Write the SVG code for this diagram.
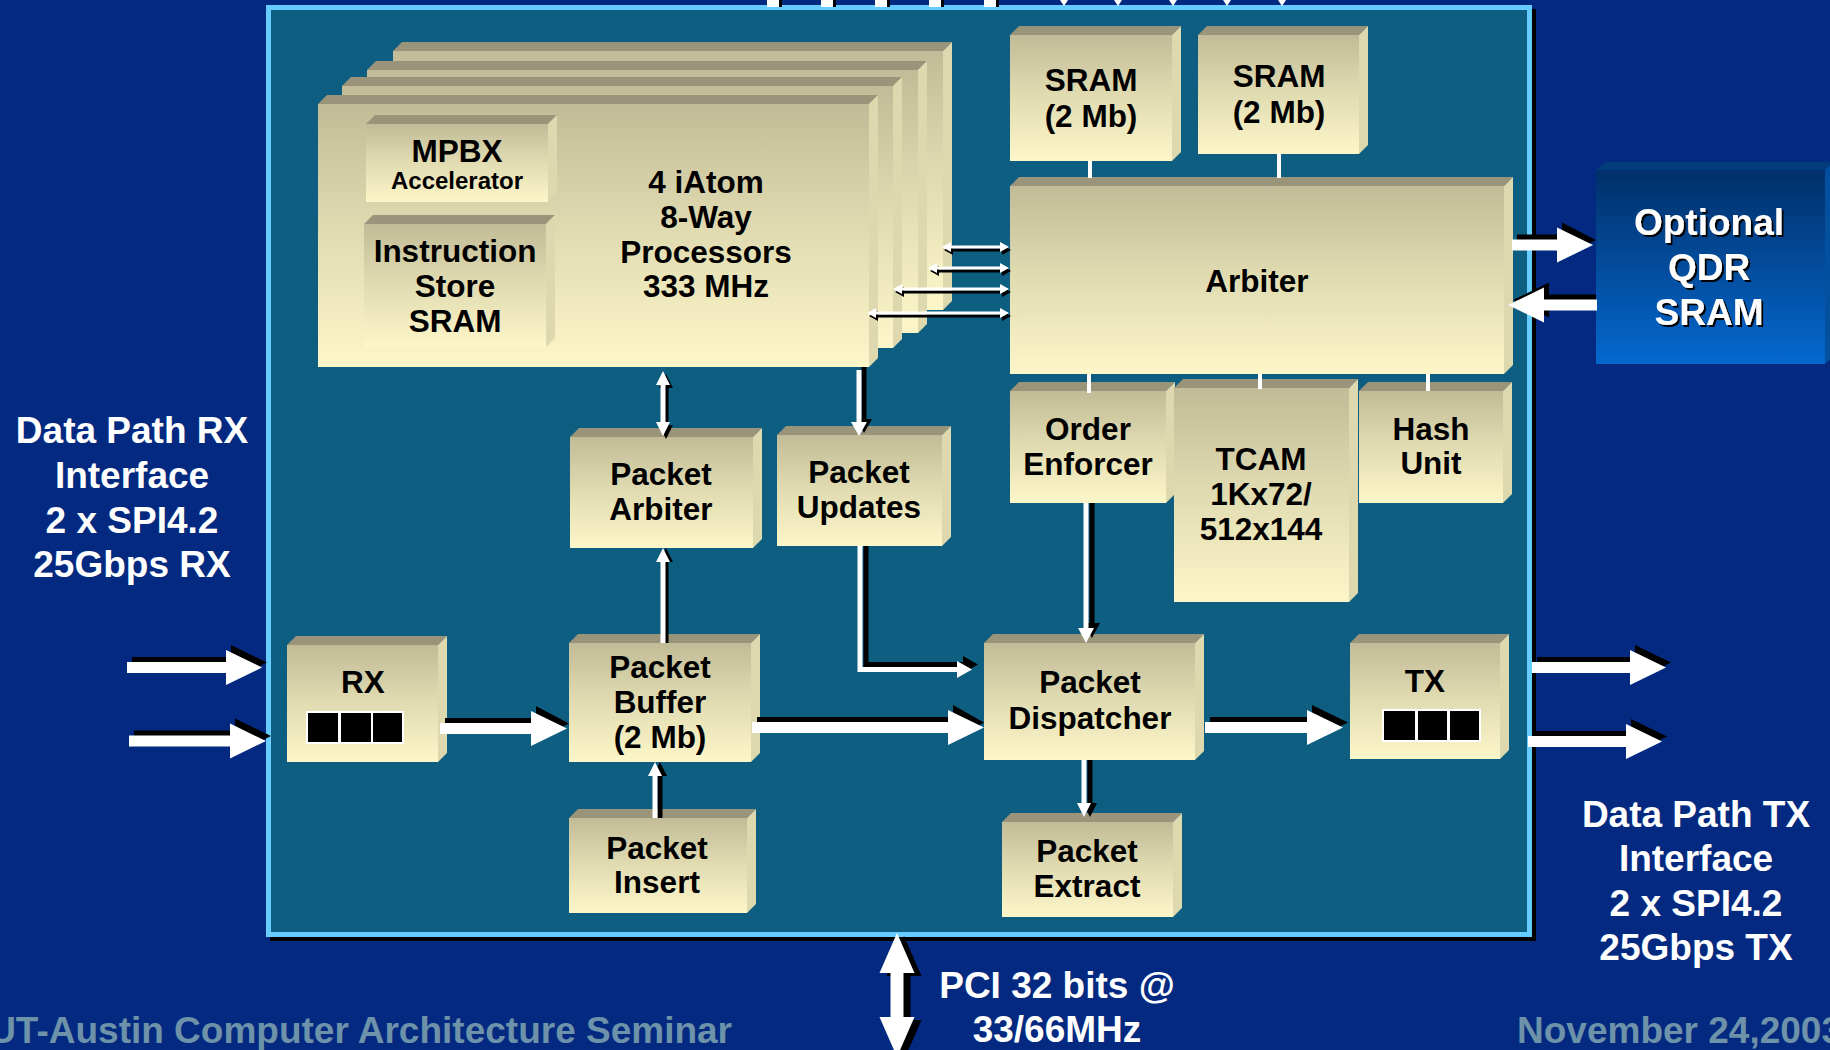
<svg xmlns="http://www.w3.org/2000/svg" width="1830" height="1050" viewBox="0 0 1830 1050">
<defs>
<linearGradient id="gF" x1="0" y1="0" x2="0" y2="1">
<stop offset="0" stop-color="#C1BC97"/><stop offset="0.45" stop-color="#DFD9B0"/><stop offset="1" stop-color="#FCF6C8"/>
</linearGradient>
<linearGradient id="gQ" x1="0" y1="0" x2="0" y2="1">
<stop offset="0" stop-color="#01306A"/><stop offset="1" stop-color="#0468CE"/>
</linearGradient>
<filter id="ds" x="-10%" y="-10%" width="130%" height="130%"><feDropShadow dx="2" dy="2" stdDeviation="0" flood-color="#000"/></filter>
<style>
.f{fill:url(#gF)}
.t{fill:#99947A}
.r{fill:#DDD8AE}
.lb{font-family:"Liberation Sans",Arial,sans-serif;font-weight:bold;font-size:31.5px;text-anchor:middle;fill:#000}
.sm{font-size:24px}
.wl{font-family:"Liberation Sans",Arial,sans-serif;font-weight:bold;font-size:37px;text-anchor:middle;fill:#fff}
.ft{font-family:"Liberation Sans",Arial,sans-serif;font-weight:bold;font-size:37px;fill:#6D92A9}
.wh{fill:#fff}
.sh{fill:#000}
</style>
</defs>
<rect x="0" y="0" width="1830" height="1050" fill="#032A80"/>

<g id="chip">
<rect x="270" y="9" width="1266" height="932" fill="#000"/>
<rect x="268.5" y="7.5" width="1261" height="927" fill="#0D5E80" stroke="#66CCFF" stroke-width="5"/>
</g>

<g id="processors">
<rect class="f" x="393" y="51" width="550" height="259"/><polygon class="t" points="393,51 402,42 952,42 943,51"/><polygon class="r" points="943,51 952,42 952,301 943,310"/>
<rect class="f" x="367" y="70" width="551" height="263"/><polygon class="t" points="367,70 376,61 927,61 918,70"/><polygon class="r" points="918,70 927,61 927,324 918,333"/>
<rect class="f" x="342" y="86" width="551" height="262"/><polygon class="t" points="342,86 351,77 902,77 893,86"/><polygon class="r" points="893,86 902,77 902,339 893,348"/>
<rect class="f" x="318" y="104" width="551" height="263"/><polygon class="t" points="318,104 327,95 878,95 869,104"/><polygon class="r" points="869,104 878,95 878,358 869,367"/>
<text class="lb" x="706" y="193">4 iAtom</text>
<text class="lb" x="706" y="228">8-Way</text>
<text class="lb" x="706" y="263">Processors</text>
<text class="lb" x="706" y="297">333 MHz</text>
</g>
<g id="mpbx">
<rect class="f" x="366" y="124" width="182" height="78"/><polygon class="t" points="366,124 375,115 557,115 548,124"/><polygon class="r" points="548,124 557,115 557,193 548,202"/>
<text class="lb" x="457" y="162">MPBX</text>
<text class="lb sm" x="457" y="189">Accelerator</text>
</g>
<g id="instruction-store">
<rect class="f" x="364" y="224" width="182" height="123"/><polygon class="t" points="364,224 373,215 555,215 546,224"/><polygon class="r" points="546,224 555,215 555,338 546,347"/>
<text class="lb" x="455" y="262">Instruction</text>
<text class="lb" x="455" y="297">Store</text>
<text class="lb" x="455" y="332">SRAM</text>
</g>
<g id="sram1">
<rect class="f" x="1010" y="35" width="162" height="126"/><polygon class="t" points="1010,35 1019,26 1181,26 1172,35"/><polygon class="r" points="1172,35 1181,26 1181,152 1172,161"/>
<text class="lb" x="1091" y="91">SRAM</text>
<text class="lb" x="1091" y="127">(2 Mb)</text>
</g>
<g id="sram2">
<rect class="f" x="1198" y="35" width="161" height="119"/><polygon class="t" points="1198,35 1207,26 1368,26 1359,35"/><polygon class="r" points="1359,35 1368,26 1368,145 1359,154"/>
<text class="lb" x="1279" y="87">SRAM</text>
<text class="lb" x="1279" y="123">(2 Mb)</text>
</g>
<g id="arbiter">
<rect class="f" x="1010" y="186" width="494" height="188"/><polygon class="t" points="1010,186 1019,177 1513,177 1504,186"/><polygon class="r" points="1504,186 1513,177 1513,365 1504,374"/>
<text class="lb" x="1257" y="292">Arbiter</text>
</g>
<g id="order-enforcer">
<rect class="f" x="1010" y="391" width="156" height="112"/><polygon class="t" points="1010,391 1019,382 1175,382 1166,391"/><polygon class="r" points="1166,391 1175,382 1175,494 1166,503"/>
<text class="lb" x="1088" y="440">Order</text>
<text class="lb" x="1088" y="475">Enforcer</text>
</g>
<g id="tcam">
<rect class="f" x="1174" y="388" width="175" height="214"/><polygon class="t" points="1174,388 1183,379 1358,379 1349,388"/><polygon class="r" points="1349,388 1358,379 1358,593 1349,602"/>
<text class="lb" x="1261" y="470">TCAM</text>
<text class="lb" x="1261" y="505">1Kx72/</text>
<text class="lb" x="1261" y="540">512x144</text>
</g>
<g id="hash-unit">
<rect class="f" x="1359" y="391" width="144" height="112"/><polygon class="t" points="1359,391 1368,382 1512,382 1503,391"/><polygon class="r" points="1503,391 1512,382 1512,494 1503,503"/>
<text class="lb" x="1431" y="440">Hash</text>
<text class="lb" x="1431" y="474">Unit</text>
</g>
<g id="packet-arbiter">
<rect class="f" x="570" y="437" width="183" height="111"/><polygon class="t" points="570,437 579,428 762,428 753,437"/><polygon class="r" points="753,437 762,428 762,539 753,548"/>
<text class="lb" x="661" y="485">Packet</text>
<text class="lb" x="661" y="520">Arbiter</text>
</g>
<g id="packet-updates">
<rect class="f" x="777" y="435" width="165" height="111"/><polygon class="t" points="777,435 786,426 951,426 942,435"/><polygon class="r" points="942,435 951,426 951,537 942,546"/>
<text class="lb" x="859" y="483">Packet</text>
<text class="lb" x="859" y="518">Updates</text>
</g>
<g id="rx">
<rect class="f" x="287" y="645" width="151" height="117"/><polygon class="t" points="287,645 296,636 447,636 438,645"/><polygon class="r" points="438,645 447,636 447,753 438,762"/>
<text class="lb" x="363" y="693">RX</text>
<rect x="306" y="711" width="98" height="33" fill="#fff"/>
<rect x="308" y="713" width="30" height="29" fill="#000"/><rect x="341" y="713" width="30" height="29" fill="#000"/><rect x="373" y="713" width="29" height="29" fill="#000"/>
</g>
<g id="packet-buffer">
<rect class="f" x="569" y="643" width="182" height="119"/><polygon class="t" points="569,643 578,634 760,634 751,643"/><polygon class="r" points="751,643 760,634 760,753 751,762"/>
<text class="lb" x="660" y="678">Packet</text>
<text class="lb" x="660" y="713">Buffer</text>
<text class="lb" x="660" y="748">(2 Mb)</text>
</g>
<g id="packet-dispatcher">
<rect class="f" x="984" y="643" width="211" height="117"/><polygon class="t" points="984,643 993,634 1204,634 1195,643"/><polygon class="r" points="1195,643 1204,634 1204,751 1195,760"/>
<text class="lb" x="1090" y="693">Packet</text>
<text class="lb" x="1090" y="729">Dispatcher</text>
</g>
<g id="tx">
<rect class="f" x="1350" y="643" width="150" height="116"/><polygon class="t" points="1350,643 1359,634 1509,634 1500,643"/><polygon class="r" points="1500,643 1509,634 1509,750 1500,759"/>
<text class="lb" x="1425" y="692">TX</text>
<rect x="1382" y="709" width="99" height="33" fill="#fff"/>
<rect x="1384" y="711" width="31" height="29" fill="#000"/><rect x="1418" y="711" width="29" height="29" fill="#000"/><rect x="1450" y="711" width="29" height="29" fill="#000"/>
</g>
<g id="packet-insert">
<rect class="f" x="569" y="818" width="178" height="95"/><polygon class="t" points="569,818 578,809 756,809 747,818"/><polygon class="r" points="747,818 756,809 756,904 747,913"/>
<text class="lb" x="657" y="859">Packet</text>
<text class="lb" x="657" y="893">Insert</text>
</g>
<g id="packet-extract">
<rect class="f" x="1002" y="822" width="171" height="95"/><polygon class="t" points="1002,822 1011,813 1182,813 1173,822"/><polygon class="r" points="1173,822 1182,813 1182,908 1173,917"/>
<text class="lb" x="1087" y="862">Packet</text>
<text class="lb" x="1087" y="897">Extract</text>
</g>
<g id="qdr-sram">
<rect x="1596" y="170" width="229" height="194" fill="url(#gQ)"/><polygon points="1596,170 1605,162 1834,162 1825,170" fill="#023C7C"/><polygon points="1825,170 1834,162 1834,356 1825,364" fill="#02509E"/>
<text class="wl" x="1709" y="235" filter="url(#ds)">Optional</text>
<text class="wl" x="1709" y="280" filter="url(#ds)">QDR</text>
<text class="wl" x="1709" y="325" filter="url(#ds)">SRAM</text>
</g>

<g id="connectors">
<!-- top edge marks -->
<rect class="sh" x="779" y="0" width="3" height="7"/><rect class="wh" x="767" y="0" width="12" height="7"/>
<rect class="sh" x="833" y="0" width="3" height="7"/><rect class="wh" x="821" y="0" width="12" height="7"/>
<rect class="sh" x="887" y="0" width="3" height="7"/><rect class="wh" x="875" y="0" width="12" height="7"/>
<rect class="sh" x="941" y="0" width="3" height="7"/><rect class="wh" x="929" y="0" width="12" height="7"/>
<rect class="sh" x="996" y="0" width="3" height="7"/><rect class="wh" x="984" y="0" width="12" height="7"/>
<polygon class="wh" points="1060,0 1068,0 1064,6"/>
<polygon class="wh" points="1114,0 1122,0 1118,6"/>
<polygon class="wh" points="1169,0 1177,0 1173,6"/>
<polygon class="wh" points="1223,0 1231,0 1227,6"/>
<polygon class="wh" points="1278,0 1286,0 1282,6"/>
<!-- plain links -->
<rect class="wh" x="1088" y="161" width="4" height="17"/>
<rect class="wh" x="1277" y="154" width="4" height="24"/>
<rect class="wh" x="1087" y="374" width="4" height="19"/>
<rect class="wh" x="1258" y="374" width="4" height="15"/>
<rect class="wh" x="1426" y="374" width="4" height="17"/>
<!-- processors <-> arbiter -->
<g transform="translate(2,3)" class="sh">
<polygon points="942,247 951,242 951,245.5 1000,245.5 1000,242 1009,247 1000,252 1000,248.5 951,248.5 951,252"/>
<polygon points="928,268 937,263 937,266.5 1000,266.5 1000,263 1009,268 1000,273 1000,269.5 937,269.5 937,273"/>
<polygon points="893,289 902,284 902,287.5 1000,287.5 1000,284 1009,289 1000,294 1000,290.5 902,290.5 902,294"/>
<polygon points="867,313 876,308 876,311.5 1000,311.5 1000,308 1009,313 1000,318 1000,314.5 876,314.5 876,318"/>
</g>
<g class="wh">
<polygon points="942,247 951,242 951,245.5 1000,245.5 1000,242 1009,247 1000,252 1000,248.5 951,248.5 951,252"/>
<polygon points="928,268 937,263 937,266.5 1000,266.5 1000,263 1009,268 1000,273 1000,269.5 937,269.5 937,273"/>
<polygon points="893,289 902,284 902,287.5 1000,287.5 1000,284 1009,289 1000,294 1000,290.5 902,290.5 902,294"/>
<polygon points="867,313 876,308 876,311.5 1000,311.5 1000,308 1009,313 1000,318 1000,314.5 876,314.5 876,318"/>
</g>
<!-- processors <-> packet arbiter -->
<polygon class="sh" transform="translate(3,3)" points="663,371 670,385 665.5,385 665.5,422 670,422 663,436 656,422 660.5,422 660.5,385 656,385"/>
<polygon class="wh" points="663,371 670,385 665.5,385 665.5,422 670,422 663,436 656,422 660.5,422 660.5,385 656,385"/>
<!-- processors -> packet updates -->
<polygon class="sh" transform="translate(5,-3)" points="856.5,370 861.5,370 861.5,422 867,422 859,436 851,422 856.5,422"/>
<polygon class="wh" points="856.5,370 861.5,370 861.5,422 867,422 859,436 851,422 856.5,422"/>
<!-- packet buffer -> packet arbiter -->
<polygon class="sh" transform="translate(3,0)" points="660.5,643 660.5,562 656,562 663,548 670,562 665.5,562 665.5,643"/>
<polygon class="wh" points="660.5,643 660.5,562 656,562 663,548 670,562 665.5,562 665.5,643"/>
<!-- packet insert -> packet buffer -->
<polygon class="sh" transform="translate(5,0)" points="652.5,818 652.5,776 648,776 655,762 662,776 657.5,776 657.5,818"/>
<polygon class="wh" points="652.5,818 652.5,776 648,776 655,762 662,776 657.5,776 657.5,818"/>
<!-- order enforcer -> packet dispatcher -->
<polygon class="sh" transform="translate(6,-5)" points="1083.5,508 1088.5,508 1088.5,628 1094,628 1086,643 1078,628 1083.5,628"/>
<polygon class="wh" points="1083.5,503 1088.5,503 1088.5,628 1094,628 1086,643 1078,628 1083.5,628"/>
<!-- packet updates -> packet dispatcher -->
<polygon class="sh" transform="translate(6,-5)" points="857.5,551 862.5,551 862.5,667 957,667 957,661 972,669.5 957,678 957,672 857.5,672"/>
<polygon class="wh" points="857.5,546 862.5,546 862.5,667 957,667 957,661 972,669.5 957,678 957,672 857.5,672"/>
<!-- packet dispatcher -> packet extract -->
<polygon class="sh" transform="translate(6,0)" points="1081.5,760 1086.5,760 1086.5,803 1091,803 1084,817 1077,803 1081.5,803"/>
<polygon class="wh" points="1081.5,760 1086.5,760 1086.5,803 1091,803 1084,817 1077,803 1081.5,803"/>
<!-- big data path arrows -->
<g class="sh" transform="translate(5,-5)">
<polygon points="127,662 226,662 226,650 262,667.5 226,685 226,673 127,673"/>
<polygon points="129,735.5 230,735.5 230,723.5 266,741 230,758.5 230,746.5 129,746.5"/>
<polygon points="440,723 531,723 531,711 564,728.5 531,746 531,734 440,734"/>
<polygon points="752,722 948,722 948,710 979,727.5 948,745 948,733 752,733"/>
<polygon points="1205,722 1307,722 1307,710 1343,727.5 1307,745 1307,733 1205,733"/>
<polygon points="1532,662 1630,662 1630,650 1666,667.5 1630,685 1630,673 1532,673"/>
<polygon points="1528,736 1626,736 1626,724 1662,741.5 1626,759 1626,747 1528,747"/>
<polygon points="1512,239.5 1557,239.5 1557,227.5 1591,245 1557,262.5 1557,250.5 1512,250.5"/>
<polygon points="1591,299.5 1544,299.5 1544,287.5 1508,305 1544,322.5 1544,310.5 1591,310.5"/>
</g>
<g class="wh">
<polygon points="127,662 226,662 226,650 262,667.5 226,685 226,673 127,673"/>
<polygon points="129,735.5 230,735.5 230,723.5 266,741 230,758.5 230,746.5 129,746.5"/>
<polygon points="440,723 531,723 531,711 567,728.5 531,746 531,734 440,734"/>
<polygon points="752,722 948,722 948,710 984,727.5 948,745 948,733 752,733"/>
<polygon points="1205,722 1307,722 1307,710 1343,727.5 1307,745 1307,733 1205,733"/>
<polygon points="1532,662 1630,662 1630,650 1666,667.5 1630,685 1630,673 1532,673"/>
<polygon points="1528,736 1626,736 1626,724 1662,741.5 1626,759 1626,747 1528,747"/>
<polygon points="1512,239.5 1557,239.5 1557,227.5 1593,245 1557,262.5 1557,250.5 1512,250.5"/>
<polygon points="1597,299.5 1544,299.5 1544,287.5 1508,305 1544,322.5 1544,310.5 1597,310.5"/>
</g>
<!-- PCI -->
<polygon class="sh" transform="translate(7,3)" points="897,933 914.5,973 903.5,973 903.5,1017 914.5,1017 897,1057 879.5,1017 890.5,1017 890.5,973 879.5,973"/>
<polygon class="wh" points="897,933 914.5,973 903.5,973 903.5,1017 914.5,1017 897,1057 879.5,1017 890.5,1017 890.5,973 879.5,973"/>
</g>

<g id="labels">
<text class="wl" x="132" y="443">Data Path RX</text>
<text class="wl" x="132" y="488">Interface</text>
<text class="wl" x="132" y="533">2 x SPI4.2</text>
<text class="wl" x="132" y="577">25Gbps RX</text>
<text class="wl" x="1696" y="827">Data Path TX</text>
<text class="wl" x="1696" y="871">Interface</text>
<text class="wl" x="1696" y="916">2 x SPI4.2</text>
<text class="wl" x="1696" y="960">25Gbps TX</text>
<text class="wl" x="1057" y="998">PCI 32 bits @</text>
<text class="wl" x="1057" y="1042">33/66MHz</text>
<text class="ft" x="732" y="1043" text-anchor="end">UT-Austin Computer Architecture Seminar</text>
<text class="ft" x="1517" y="1043">November 24,2003</text>
</g>
</svg>
